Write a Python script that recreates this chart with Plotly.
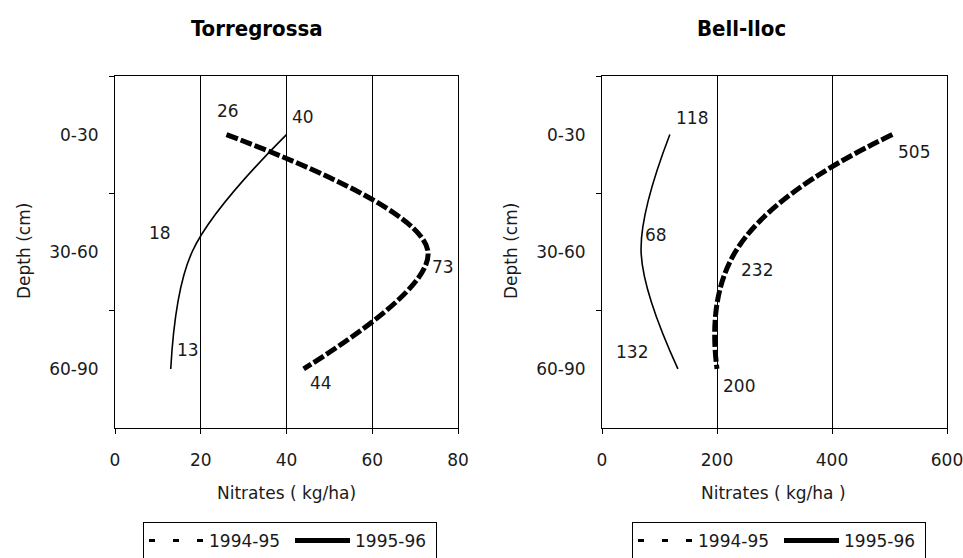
import plotly.graph_objects as go

# ---------------- data ----------------
depth = ["0-30", "30-60", "60-90"]
torre_1994_95 = [40, 18, 13]
torre_1995_96 = [26, 73, 44]
bell_1994_95 = [118, 68, 132]
bell_1995_96 = [505, 232, 200]
left_xticks = [0, 20, 40, 60, 80]
right_xticks = [0, 200, 400, 600]
series_names = ["1994-95", "1995-96"]

# label pixel offsets (dx, dy-up) - styling only
off_t_9495 = [(16, 18), (-32, 19), (17, 19)]
off_t_9596 = [(2, 24), (15, -15), (17, -14)]
off_b_9495 = [(22, 17), (15, 17), (-46, 17)]
off_b_9596 = [(22, -17), (22, -18), (22, -17)]

FONT = "DejaVu Sans"
FS = 17
TXT = "#1a1a1a"

fig = go.Figure()

thin = dict(color="black", width=1.6, shape="spline", smoothing=1.0)
thick = dict(color="black", width=5, shape="spline", smoothing=1.0, dash="12px,3px")
thick_r = dict(thick, smoothing=1.3)

fig.add_trace(go.Scatter(x=torre_1994_95, y=depth, mode="lines", line=thin,
                         showlegend=False, xaxis="x", yaxis="y"))
fig.add_trace(go.Scatter(x=torre_1995_96, y=depth, mode="lines", line=thick,
                         showlegend=False, xaxis="x", yaxis="y"))
fig.add_trace(go.Scatter(x=bell_1994_95, y=depth, mode="lines", line=thin,
                         showlegend=False, xaxis="x2", yaxis="y2"))
fig.add_trace(go.Scatter(x=bell_1995_96, y=depth, mode="lines", line=thick_r,
                         showlegend=False, xaxis="x2", yaxis="y2"))

# legend entries (styles as in the legend boxes)
for lg, xa, ya in [("legend", "x", "y"), ("legend2", "x2", "y2")]:
    fig.add_trace(go.Scatter(x=[None], y=[None], mode="lines", name=series_names[0],
                             line=dict(color="black", width=3, dash="6px,18px"),
                             legend=lg, xaxis=xa, yaxis=ya))
    fig.add_trace(go.Scatter(x=[None], y=[None], mode="lines", name=series_names[1],
                             line=dict(color="black", width=5),
                             legend=lg, xaxis=xa, yaxis=ya))

annotations = []
def add_labels(vals, offs, xr, yr):
    for i, (v, (dx, dy)) in enumerate(zip(vals, offs)):
        annotations.append(dict(x=v, y=i, xref=xr, yref=yr, text=str(v), showarrow=False,
                                xshift=dx, yshift=dy, xanchor="center", yanchor="middle",
                                font=dict(family=FONT, size=FS, color=TXT)))

add_labels(torre_1994_95, off_t_9495, "x", "y")
add_labels(torre_1995_96, off_t_9596, "x", "y")
add_labels(bell_1994_95, off_b_9495, "x2", "y2")
add_labels(bell_1995_96, off_b_9596, "x2", "y2")

W, H = 963, 558
def px(x):
    return x / W
def py(y):
    return 1 - y / H

title_font = dict(family="DejaVu Sans Condensed, Liberation Sans Narrow, DejaVu Sans", size=22, color="black")
def paper_text(text, x, y, font, angle=0):
    return dict(text=text, x=px(x), y=py(y), xref="paper", yref="paper", textangle=angle,
                xanchor="center", yanchor="middle", showarrow=False, font=font)

body_font = dict(family=FONT, size=FS, color=TXT)
annotations += [
    paper_text("<b>Torregrossa</b>", 257, 29, title_font),
    paper_text("<b>Bell-lloc</b>", 741, 29, title_font),
    paper_text("Depth (cm)", 24, 251, body_font, -90),
    paper_text("Depth (cm)", 511, 251, body_font, -90),
    paper_text("Nitrates ( kg/ha)", 286, 493, body_font),
    paper_text("Nitrates ( kg/ha )", 773, 493, body_font),
]

xcommon = dict(showline=True, linecolor="black", linewidth=1, mirror=True,
               showgrid=True, gridcolor="black", gridwidth=1, zeroline=False,
               ticks="outside", ticklen=5, tickcolor="black", ticklabelstandoff=12,
               ticklabeloverflow="allow", tickfont=body_font)
ycommon = dict(type="category", categoryorder="array", categoryarray=depth,
               range=[2.5, -0.5], tickson="boundaries", showline=True, linecolor="black",
               linewidth=1, mirror=True, showgrid=False, zeroline=False,
               ticks="outside", ticklen=5, tickcolor="black", ticklabelstandoff=12,
               tickfont=body_font)

ydom = [py(427.5), py(76)]
legend_common = dict(orientation="h", yanchor="top", xanchor="left", bordercolor="black",
                     borderwidth=1, bgcolor="white", entrywidth=76, entrywidthmode="pixels",
                     font=body_font, itemwidth=55)

fig.update_layout(
    width=W, height=H,
    margin=dict(l=0, r=0, t=0, b=0, autoexpand=False),
    paper_bgcolor="white", plot_bgcolor="white",
    xaxis=dict(domain=[px(115), px(458)], range=[0, 80], tickvals=left_xticks, anchor="y", **xcommon),
    yaxis=dict(domain=ydom, anchor="x", **ycommon),
    xaxis2=dict(domain=[px(602), px(947)], range=[0, 600], tickvals=right_xticks, anchor="y2", **xcommon),
    yaxis2=dict(domain=ydom, anchor="x2", **ycommon),
    legend=dict(x=px(143), y=py(522), **legend_common),
    legend2=dict(x=px(632), y=py(522), **legend_common),
    annotations=annotations,
)

fig.write_html("out.html", config={"displayModeBar": False},
               post_script="document.body.style.margin='0px';")
